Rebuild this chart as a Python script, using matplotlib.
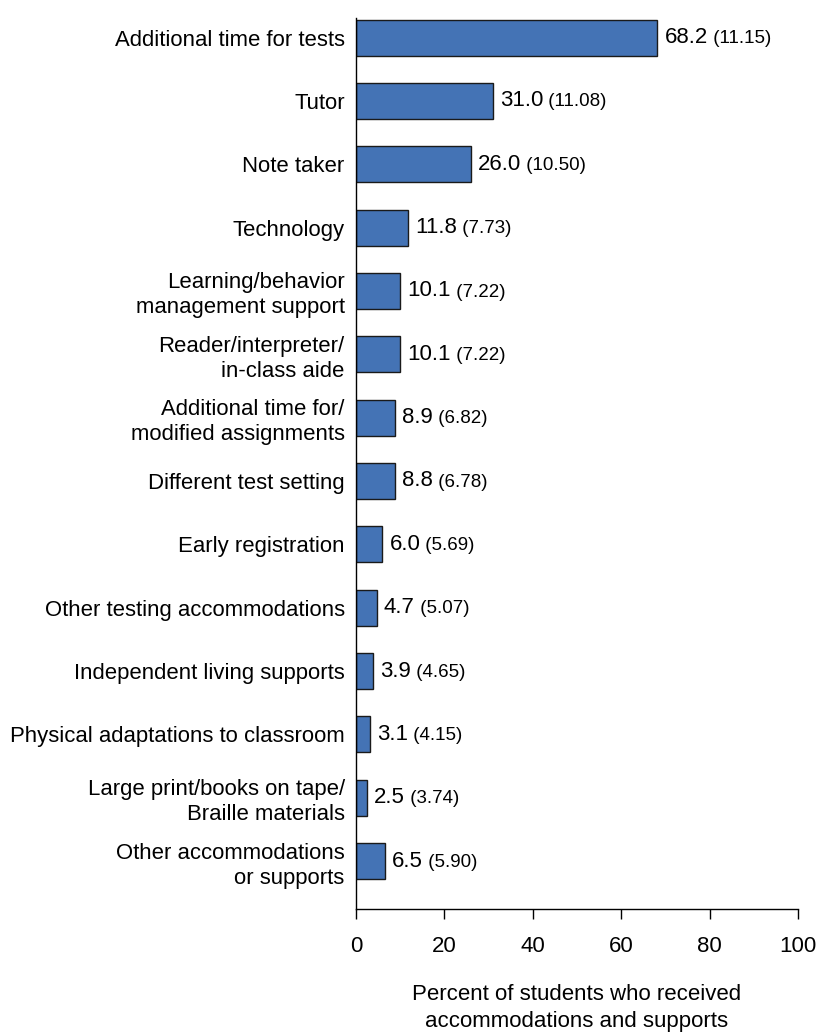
import matplotlib
matplotlib.use("Agg")
import matplotlib.pyplot as plt

categories = [
    "Additional time for tests",
    "Tutor",
    "Note taker",
    "Technology",
    "Learning/behavior\nmanagement support",
    "Reader/interpreter/\nin-class aide",
    "Additional time for/\nmodified assignments",
    "Different test setting",
    "Early registration",
    "Other testing accommodations",
    "Independent living supports",
    "Physical adaptations to classroom",
    "Large print/books on tape/\nBraille materials",
    "Other accommodations\nor supports",
]
values = [68.2, 31.0, 26.0, 11.8, 10.1, 10.1, 8.9, 8.8, 6.0, 4.7, 3.9, 3.1, 2.5, 6.5]
std_errors = ["11.15", "11.08", "10.50", "7.73", "7.22", "7.22", "6.82", "6.78",
              "5.69", "5.07", "4.65", "4.15", "3.74", "5.90"]
xticks = [0, 20, 40, 60, 80, 100]

plt.rcParams['font.family'] = ['Liberation Sans', 'DejaVu Sans']

fig = plt.figure(figsize=(8.18, 10.32), dpi=100)
ax = fig.add_axes([0.435, 0.119, 0.5406, 0.8636])

ypos = list(range(len(categories)))
ax.barh(ypos, values, height=0.57, color="#4473B5", edgecolor="#1a1a1a", linewidth=1.0)

ax.set_ylim(len(categories) - 1 + 0.76, -0.31)
ax.set_xlim(0, 100)
ax.set_yticks(ypos)
ax.set_yticklabels(categories, fontsize=15.95, linespacing=1.25)
ax.tick_params(axis='y', length=0, pad=8)
ax.set_xticks(xticks)
ax.set_xticklabels([str(t) for t in xticks], fontsize=16)
ax.tick_params(axis='x', length=7, width=1, pad=12, direction='out')

for s in ['top', 'right']:
    ax.spines[s].set_visible(False)
for s in ['left', 'bottom']:
    ax.spines[s].set_linewidth(1.0)

for y, v, se in zip(ypos, values, std_errors):
    t = ax.text(v + 1.6, y, f"{v:.1f}", fontsize=16, va='center', ha='left')
    ax.annotate(f" ({se})", xy=(1, 0.45), xycoords=t, fontsize=13.5, va='center', ha='left')

ax.set_xlabel("Percent of students who received\naccommodations and supports",
              fontsize=16, labelpad=20, linespacing=1.35)

fig.savefig("out.png", dpi=100)
